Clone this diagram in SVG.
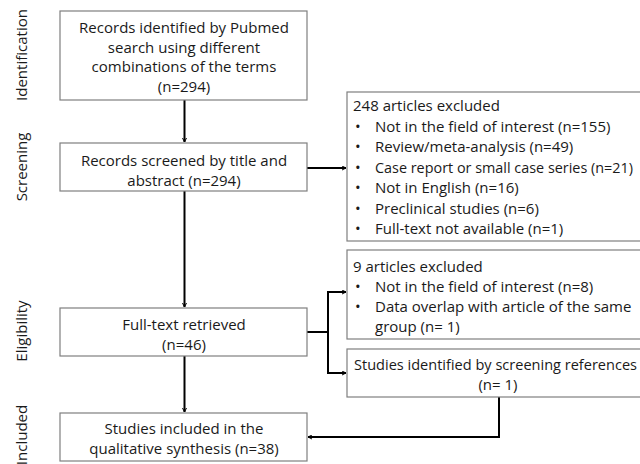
<svg xmlns="http://www.w3.org/2000/svg" width="640" height="464" viewBox="0 0 640 464">
<defs>
<marker id="arr" viewBox="0 0 10 10" refX="9" refY="5" markerWidth="5" markerHeight="5" orient="auto" markerUnits="userSpaceOnUse">
<path d="M1,1 L9,5 L1,9" fill="none" stroke="#000" stroke-width="2"/>
</marker>
<style>
.box{fill:#fff;stroke:#7f7f7f;stroke-width:1.2}
.t{font-family:"Open Sans","Liberation Sans",sans-serif;font-size:15px;fill:#1a1a1a}
.c{text-anchor:middle}
.lbl{font-family:"Open Sans","Liberation Sans",sans-serif;font-size:15px;fill:#1a1a1a;text-anchor:middle}
.ln{fill:none;stroke:#000;stroke-width:2}
</style>
</defs>
<rect width="640" height="464" fill="#fff"/>
<g id="stage-labels">
<text class="lbl" transform="translate(27,55) rotate(-90)">Identification</text>
<text class="lbl" transform="translate(27,167) rotate(-90)">Screening</text>
<text class="lbl" transform="translate(27,331) rotate(-90)">Eligibility</text>
<text class="lbl" transform="translate(27,435) rotate(-90)">Included</text>
</g>
<g id="connectors">
<line class="ln" x1="184.5" y1="100" x2="184.5" y2="142" marker-end="url(#arr)"/>
<line class="ln" x1="307" y1="168" x2="346" y2="168" marker-end="url(#arr)"/>
<line class="ln" x1="184.5" y1="191" x2="184.5" y2="307" marker-end="url(#arr)"/>
<line class="ln" x1="184.5" y1="356" x2="184.5" y2="412" marker-end="url(#arr)"/>
<line class="ln" x1="307" y1="332" x2="328" y2="332"/>
<polyline class="ln" points="328,332 328,292 346,292" marker-end="url(#arr)"/>
<polyline class="ln" points="328,332 328,373 346,373" marker-end="url(#arr)"/>
<polyline class="ln" points="499,397 499,437 308,437" marker-end="url(#arr)"/>
</g>
<g id="n-identified">
<rect class="box" x="60" y="11" width="247" height="89"/>
<text class="t c" x="184" y="33">Records identified by Pubmed</text>
<text class="t c" x="184" y="52.5">search using different</text>
<text class="t c" x="184" y="72">combinations of the terms</text>
<text class="t c" x="184" y="91.5">(n=294)</text>
</g>
<g id="n-screened">
<rect class="box" x="60" y="143" width="247" height="48"/>
<text class="t c" x="184" y="166">Records screened by title and</text>
<text class="t c" x="184" y="185.5">abstract (n=294)</text>
</g>
<g id="n-excluded1">
<rect class="box" x="347" y="92" width="302" height="149"/>
<text class="t" x="353" y="111">248 articles excluded</text>
<g class="t">
<text x="355" y="131.5">•</text><text x="375" y="131.5">Not in the field of interest (n=155)</text>
<text x="355" y="152">•</text><text x="375" y="152">Review/meta-analysis (n=49)</text>
<text x="355" y="172.5">•</text><text x="375" y="172.5" textLength="258" lengthAdjust="spacingAndGlyphs">Case report or small case series (n=21)</text>
<text x="355" y="193">•</text><text x="375" y="193">Not in English (n=16)</text>
<text x="355" y="213.5">•</text><text x="375" y="213.5">Preclinical studies (n=6)</text>
<text x="355" y="234">•</text><text x="375" y="234">Full-text not available (n=1)</text>
</g>
</g>
<g id="n-fulltext">
<rect class="box" x="60" y="308" width="247" height="48"/>
<text class="t c" x="184" y="330">Full-text retrieved</text>
<text class="t c" x="184" y="349.5">(n=46)</text>
</g>
<g id="n-excluded2">
<rect class="box" x="347" y="250" width="302" height="89"/>
<text class="t" x="353" y="272">9 articles excluded</text>
<g class="t">
<text x="355" y="292">•</text><text x="375" y="292">Not in the field of interest (n=8)</text>
<text x="355" y="312">•</text><text x="375" y="312">Data overlap with article of the same</text>
<text x="375" y="332">group (n= 1)</text>
</g>
</g>
<g id="n-references">
<rect class="box" x="347" y="349" width="302" height="48"/>
<text class="t" x="354" y="370" textLength="283" lengthAdjust="spacingAndGlyphs">Studies identified by screening references</text>
<text class="t c" x="498" y="390">(n= 1)</text>
</g>
<g id="n-included">
<rect class="box" x="60" y="413" width="247" height="48"/>
<text class="t c" x="184" y="434">Studies included in the</text>
<text class="t c" x="184" y="454">qualitative synthesis (n=38)</text>
</g>
</svg>
